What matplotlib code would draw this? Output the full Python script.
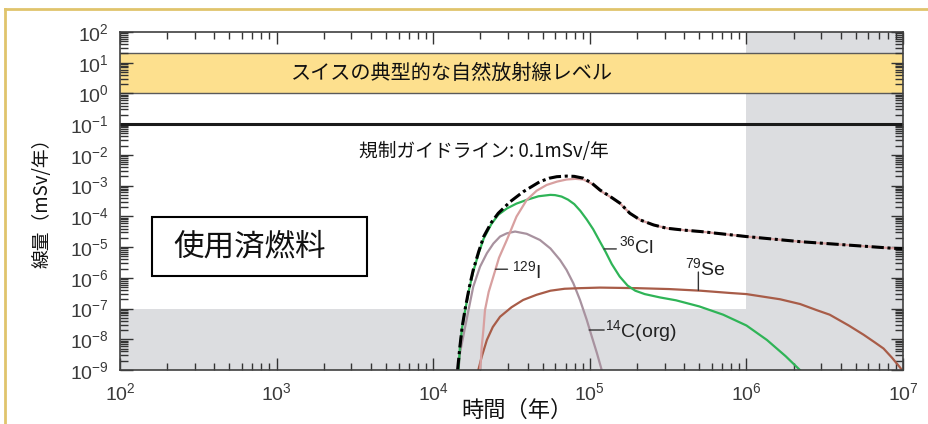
import matplotlib
matplotlib.use("Agg")
import matplotlib.pyplot as plt
from matplotlib.lines import Line2D
from matplotlib.patches import Rectangle
from matplotlib.ticker import LogLocator, NullFormatter, LogFormatterSciNotation
import numpy as np

plt.rcParams['font.family'] = ['Liberation Sans', 'Noto Sans CJK JP', 'DejaVu Sans']
plt.rcParams['mathtext.fontset'] = 'custom'
plt.rcParams['mathtext.rm'] = 'Liberation Sans'
plt.rcParams['mathtext.it'] = 'Liberation Sans:italic'
plt.rcParams['mathtext.bf'] = 'Liberation Sans:bold'
plt.rcParams['mathtext.default'] = 'regular'

JP = ['Noto Sans CJK JP', 'DejaVu Sans']

# data (time in years, dose in mSv/yr)
t_total = [1.43e4, 1.48e4, 1.53e4, 1.6e4, 1.7e4, 1.8e4, 1.95e4, 2.1e4, 2.35e4, 2.6e4, 3.1e4,
           3.75e4, 4.8e4, 5.5e4, 6.15e4, 7.1e4, 7.95e4, 9.1e4, 1.03e5, 1.16e5, 1.35e5, 1.56e5,
           1.8e5, 2.1e5, 2.55e5, 3.1e5, 4.0e5, 5.1e5, 1.0e6, 2.2e6, 8.7e6, 1.0e7]
d_total = [1e-9, 5.8e-9, 2.5e-8, 1e-7, 5e-7, 1.8e-6, 7.1e-6, 2.2e-5, 6.3e-5, 1.26e-4, 3.0e-4,
           6.3e-4, 1.35e-3, 1.74e-3, 1.95e-3, 2.04e-3, 2.0e-3, 1.74e-3, 1.2e-3, 7.2e-4, 4.4e-4, 2.66e-4,
           1.26e-4, 7.6e-5, 5.25e-5, 4.1e-5, 3.55e-5, 3.2e-5, 2.2e-5, 1.5e-5, 9.1e-6, 8.9e-6]

t_i129 = [1.99e4, 2.02e4, 2.04e4, 2.09e4, 2.14e4, 2.26e4, 2.42e4, 2.63e4, 2.95e4, 3.4e4, 3.95e4,
          4.57e4, 5.3e4, 6.17e4, 7.1e4, 8.1e4, 9.1e4, 1.03e5, 1.16e5, 1.35e5, 1.56e5, 1.8e5,
          2.1e5, 2.55e5, 3.1e5, 4.0e5, 5.1e5, 1.0e6, 2.2e6, 8.7e6, 1.0e7]
d_i129 = [1e-9, 2.5e-9, 5.75e-9, 2e-8, 8.9e-8, 3.5e-7, 1.1e-6, 4.5e-6, 1.7e-5, 9.8e-5, 3.4e-4,
          6.8e-4, 1.05e-3, 1.35e-3, 1.58e-3, 1.66e-3, 1.58e-3, 1.15e-3, 6.9e-4, 4.3e-4, 2.6e-4, 1.26e-4,
          7.6e-5, 5.25e-5, 4.1e-5, 3.55e-5, 3.2e-5, 2.2e-5, 1.5e-5, 9.1e-6, 8.9e-6]

t_cl36 = [1.45e4, 1.48e4, 1.53e4, 1.6e4, 1.7e4, 1.8e4, 1.95e4, 2.1e4, 2.35e4, 2.6e4, 2.95e4,
          3.4e4, 4.0e4, 4.7e4, 5.6e4, 6.0e4, 6.6e4, 7.25e4, 7.95e4, 8.7e4, 9.55e4, 1.05e5,
          1.16e5, 1.26e5, 1.38e5, 1.55e5, 1.74e5, 1.95e5, 2.24e5, 2.8e5, 3.55e5, 5.0e5, 7.1e5,
          1.0e6, 1.35e6, 1.78e6, 2.24e6]
d_cl36 = [1e-9, 5.8e-9, 2.5e-8, 9e-8, 4.5e-7, 1.6e-6, 6.3e-6, 1.9e-5, 5.6e-5, 1.12e-4, 1.8e-4,
          2.6e-4, 3.5e-4, 4.5e-4, 5e-4, 4.9e-4, 4.4e-4, 3.5e-4, 2.5e-4, 1.5e-4, 7.9e-5, 3.8e-5,
          1.5e-5, 7e-6, 2.8e-6, 1.1e-6, 5.6e-7, 3.8e-7, 2.95e-7, 2.3e-7, 1.85e-7, 1.17e-7, 6.3e-8,
          2.8e-8, 9.5e-9, 2.8e-9, 9e-10]

t_c14 = [1.45e4, 1.48e4, 1.6e4, 1.8e4, 1.99e4, 2.2e4, 2.42e4, 2.67e4, 2.95e4, 3.33e4, 3.95e4,
         4.8e4, 5.6e4, 6.45e4, 7.1e4, 7.85e4, 8.65e4, 9.55e4, 1.03e5, 1.11e5, 1.19e5]
d_c14 = [1e-9, 3.5e-9, 2.6e-8, 5.1e-7, 2.3e-6, 6.3e-6, 1.3e-5, 2.2e-5, 2.8e-5, 3.2e-5, 2.7e-5,
         1.7e-5, 9e-6, 3.8e-6, 1.8e-6, 6.6e-7, 1.9e-7, 4.3e-8, 1.2e-8, 3.5e-9, 1e-9]

t_se79 = [1.94e4, 2.04e4, 2.2e4, 2.4e4, 2.67e4, 3.16e4, 3.75e4, 4.57e4, 5.6e4, 6.9e4, 8.65e4,
          1.16e5, 2.0e5, 3.2e5, 5.1e5, 7.9e5, 1.0e6, 1.64e6, 2.2e6, 2.8e6, 3.4e6, 4.5e6,
          5.6e6, 6.6e6, 7.5e6, 8.5e6, 9.5e6, 1.0e7]
d_se79 = [1e-9, 2.7e-9, 9.5e-9, 2.5e-8, 5.4e-8, 1.1e-7, 1.9e-7, 2.8e-7, 3.8e-7, 4.4e-7, 4.6e-7,
          4.8e-7, 4.6e-7, 4.3e-7, 3.8e-7, 3.2e-7, 2.95e-7, 2e-7, 1.4e-7, 8.9e-8, 6.3e-8, 2.8e-8,
          1.4e-8, 7.9e-9, 5e-9, 2.5e-9, 1.26e-9, 8.9e-10]

natural_band = (1.0, 20.0)
guideline = 0.1
gray_time = 1e6
gray_dose = 1e-7

fig = plt.figure(figsize=(9.29, 4.24), dpi=100)
ax = fig.add_axes([0.1292, 0.1274, 0.8429, 0.7972])
ax.set_xscale('log')
ax.set_yscale('log')
ax.set_xlim(1e2, 1e7)
ax.set_ylim(1e-9, 1e2)

gray = '#dcdde0'
ax.axvspan(gray_time, 1e7, color=gray, lw=0, zorder=0)
ax.axhspan(1e-9, gray_dose, color=gray, lw=0, zorder=0)
ax.axhspan(natural_band[0], natural_band[1], color='#fde08e', lw=0, zorder=1)
for v in natural_band:
    ax.axhline(v, color='#5a5a5a', lw=1.0, zorder=1.5)
ax.axhline(guideline, color='#1a1a1a', lw=2.2, zorder=2)

ax.plot(t_c14, d_c14, color='#a8929f', lw=1.6, zorder=3)
ax.plot(t_se79, d_se79, color='#a85c48', lw=1.6, zorder=3)
ax.plot(t_cl36, d_cl36, color='#2fb457', lw=1.6, zorder=3)
ax.plot(t_i129, d_i129, color='#d8a0a0', lw=1.6, zorder=3)
ax.plot(t_total, d_total, color='black', lw=2.2, ls=(0, (4, 1.2, 1, 1.2)), zorder=4)

# nuclide labels with short leader lines
lab_kw = dict(textcoords='offset points', fontsize=14, color='#222222', zorder=6)
line_kw = dict(arrowstyle='-', color='#333333', lw=1.0, shrinkA=0, shrinkB=0)
labels = [
    (r'$^{36}$Cl', (1.23e5, 8.7e-6), (8.9, 0), (10.6, -3.1)),
    (r'$^{129}$I', (2.5e4, 1.9e-6), (8.6, 0), (11.5, -6.5)),
    (r'$^{14}$C(org)', (9.9e4, 2e-8), (10.8, 0), (11.3, -4.8)),
]
for txt, pt, lend, tpos in labels:
    ax.annotate('', xy=pt, xytext=lend, textcoords='offset points', arrowprops=line_kw, zorder=6)
    ax.annotate(txt, xy=pt, xytext=tpos, ha='left', va='baseline', **lab_kw)
se_pt = (4.93e5, 3.9e-7)
ax.annotate('', xy=se_pt, xytext=(0, 13.2), textcoords='offset points', arrowprops=line_kw, zorder=6)
ax.annotate(r'$^{79}$Se', xy=se_pt, xytext=(-9.6, 10.8), ha='left', va='baseline', **lab_kw)

ax.text(0.424, 0.876, 'スイスの典型的な自然放射線レベル', transform=ax.transAxes,
        ha='center', va='center', fontsize=14.5, family=JP, color='#111111', zorder=6)
ax.text(0.465, 0.645, '規制ガイドライン: 0.1mSv/年', transform=ax.transAxes,
        ha='center', va='center', fontsize=13.5, family=JP, color='#111111', zorder=6)

ax.add_patch(Rectangle((0.0405, 0.278), 0.2746, 0.1755, transform=ax.transAxes,
                       facecolor='white', edgecolor='black', lw=1.5, zorder=5))
ax.text(0.166, 0.365, '使用済燃料', transform=ax.transAxes, ha='center', va='center',
        fontsize=22, family=JP, color='#111111', zorder=6)

# axes styling
for sp in ax.spines.values():
    sp.set_color('#404040')
    sp.set_linewidth(1.2)
    sp.set_zorder(7)
ax.xaxis.set_major_locator(LogLocator(base=10, numticks=20))
ax.xaxis.set_minor_locator(LogLocator(base=10, subs=np.arange(2, 10), numticks=100))
ax.yaxis.set_major_locator(LogLocator(base=10, numticks=20))
ax.yaxis.set_minor_locator(LogLocator(base=10, subs=np.arange(2, 10), numticks=100))
ax.xaxis.set_major_formatter(LogFormatterSciNotation())
ax.yaxis.set_major_formatter(LogFormatterSciNotation())
ax.xaxis.set_minor_formatter(NullFormatter())
ax.yaxis.set_minor_formatter(NullFormatter())
ax.tick_params(which='both', direction='in', top=True, right=True, color='#333333', width=1.0)
ax.tick_params(axis='x', which='major', length=8.5, labelsize=14, labelcolor='#3a3a3a', pad=9)
ax.tick_params(axis='x', which='minor', length=5)
ax.tick_params(axis='y', which='major', length=9, labelsize=14, labelcolor='#3a3a3a', pad=8)
ax.tick_params(axis='y', which='minor', length=6)

fig.text(0.5565, 0.033, '時間（年）', ha='center', va='center', fontsize=16, family=JP, color='#111111')
fig.text(0.045, 0.533, '線量（mSv/年）', ha='center', va='center', rotation=90, fontsize=13.5,
         family=JP, color='#111111')

# slide frame
frame_c = '#e0c46c'
fig.add_artist(Line2D([5.3 / 929, 5.3 / 929], [0, 1 - 8.7 / 424], transform=fig.transFigure,
                      color=frame_c, lw=2))
fig.add_artist(Line2D([5.3 / 929, 1], [1 - 8.7 / 424, 1 - 8.7 / 424], transform=fig.transFigure,
                      color=frame_c, lw=2))

fig.savefig('out.png', dpi=100)
